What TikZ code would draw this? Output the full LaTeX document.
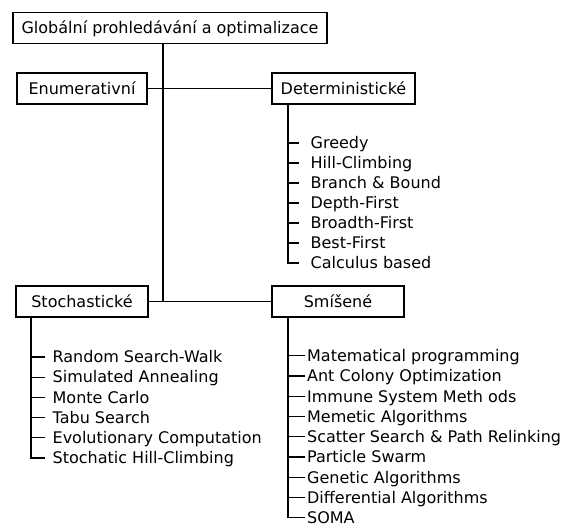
\documentclass[tikz,border=0pt]{standalone}
\usepackage{fontspec}
\setmainfont{DejaVu Sans}
\begin{document}
\begin{tikzpicture}[x=1pt,y=-1pt,line width=1.3pt,
  font=\fontsize{16pt}{19pt}\selectfont,
  box/.style={draw,fill=white,inner sep=0pt,minimum height=31pt,
              text height=11.5pt,text depth=0pt},
  item/.style={anchor=west,inner ysep=0pt,text height=11.5pt,text depth=0pt}]
\useasboundingbox (0,0) rectangle (570,527);
\node[box,minimum width=314pt] (glob) at (170,28) {Globální prohledávání a optimalizace};
\node[box,minimum width=130pt] (enum) at (82,88.5) {Enumerativní};
\node[box,minimum width=143pt] (det) at (343.5,88.5) {Deterministické};
\node[box,minimum width=132pt] (stoch) at (82,301.5) {Stochastické};
\node[box,minimum width=132pt] (smis) at (338,301.5) {Smíšené};
\coordinate (junc) at (163,301.5);
\coordinate (dstem) at (288,0);
\coordinate (sstem) at (31,0);
\coordinate (mstem) at (288,0);
\draw (glob.south -| junc) -- (junc);
\draw (enum) -- (det);
\draw (stoch) -- (smis);
\foreach \txt [count=\i] in {Greedy,Hill-Climbing,Branch \& Bound,Depth-First,
    Broadth-First,Best-First,Calculus based}{
  \node[item,inner xsep=11pt] (d\i) at (299,123+20*\i) {\txt};
  \draw (d\i.west) -- (d\i.west -| dstem);
}
\draw (det.south -| dstem) |- (d7.west);
\foreach \txt [count=\i] in {Random Search-Walk,Simulated Annealing,Monte Carlo,
    Tabu Search,Evolutionary Computation,Stochatic Hill-Climbing}{
  \node[item,inner xsep=7pt] (s\i) at (45,336.8+20.2*\i) {\txt};
  \draw (s\i.west) -- (s\i.west -| sstem);
}
\draw (stoch.south -| sstem) |- (s6.west);
\foreach \txt [count=\i] in {Matematical programming,Ant Colony Optimization,
    Immune System Meth ods,Memetic Algorithms,Scatter Search \& Path Relinking,
    Particle Swarm,Genetic Algorithms,Differential Algorithms,SOMA}{
  \node[item,inner xsep=1.5pt] (m\i) at (305,335.5+20.25*\i) {\txt};
  \draw (m\i.west) -- (m\i.west -| mstem);
}
\draw (smis.south -| mstem) |- (m9.west);
\end{tikzpicture}
\end{document}
